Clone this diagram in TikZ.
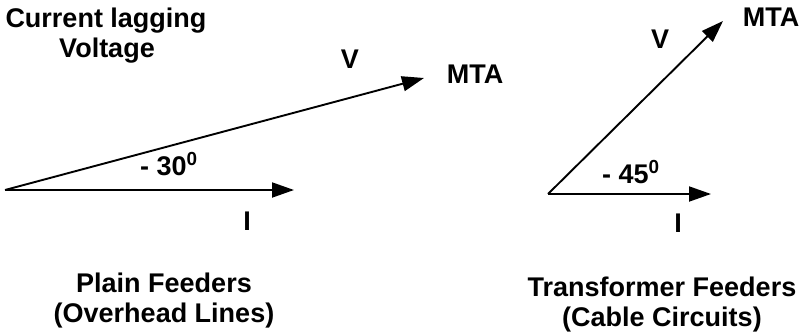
\documentclass[tikz,border=0pt]{standalone}
\usepackage{fontspec}
\setmainfont{Liberation Sans}
\usetikzlibrary{arrows.meta}
\begin{document}
\begin{tikzpicture}[x=1pt,y=-1pt,
  lbl/.style={font=\fontsize{27}{31}\selectfont\bfseries, inner sep=0pt, anchor=base},
  vec/.style={line width=1.9pt, -{Triangle[length=22pt,width=15pt]}}]
\useasboundingbox (0,0) rectangle (803,335);
% left diagram
\coordinate (o1) at (5,190);
\coordinate (i1) at (294,190);
\coordinate (v1) at (424,78);
\draw[vec] (o1) -- (i1);
\draw[vec] (o1) -- (v1);
\node[lbl] (t1) at (106,27) {Current lagging};
\node[lbl] (t2) at (107,57) {Voltage};
\node[lbl] (V1) at (350,68) {V};
\node[lbl] (M1) at (475,83) {MTA};
\node[lbl, anchor=base west] (a1) at (140,175) {- 30\textsuperscript{0}};
\node[lbl] (I1) at (247,230) {I};
\node[lbl] (p1) at (164,292) {Plain Feeders};
\node[lbl] (p2) at (164,322) {(Overhead Lines)};
% right diagram
\coordinate (o2) at (548,194);
\coordinate (i2) at (711,194);
\coordinate (v2) at (723,21);
\draw[vec] (o2) -- (i2);
\draw[vec] (o2) -- (v2);
\node[lbl] (V2) at (660,48) {V};
\node[lbl] (M2) at (771,26) {MTA};
\node[lbl, anchor=base west] (a2) at (602,183) {- 45\textsuperscript{0}};
\node[lbl] (I2) at (678,232) {I};
\node[lbl] (q1) at (662,296) {Transformer Feeders};
\node[lbl] (q2) at (662,326) {(Cable Circuits)};
\end{tikzpicture}
\end{document}
